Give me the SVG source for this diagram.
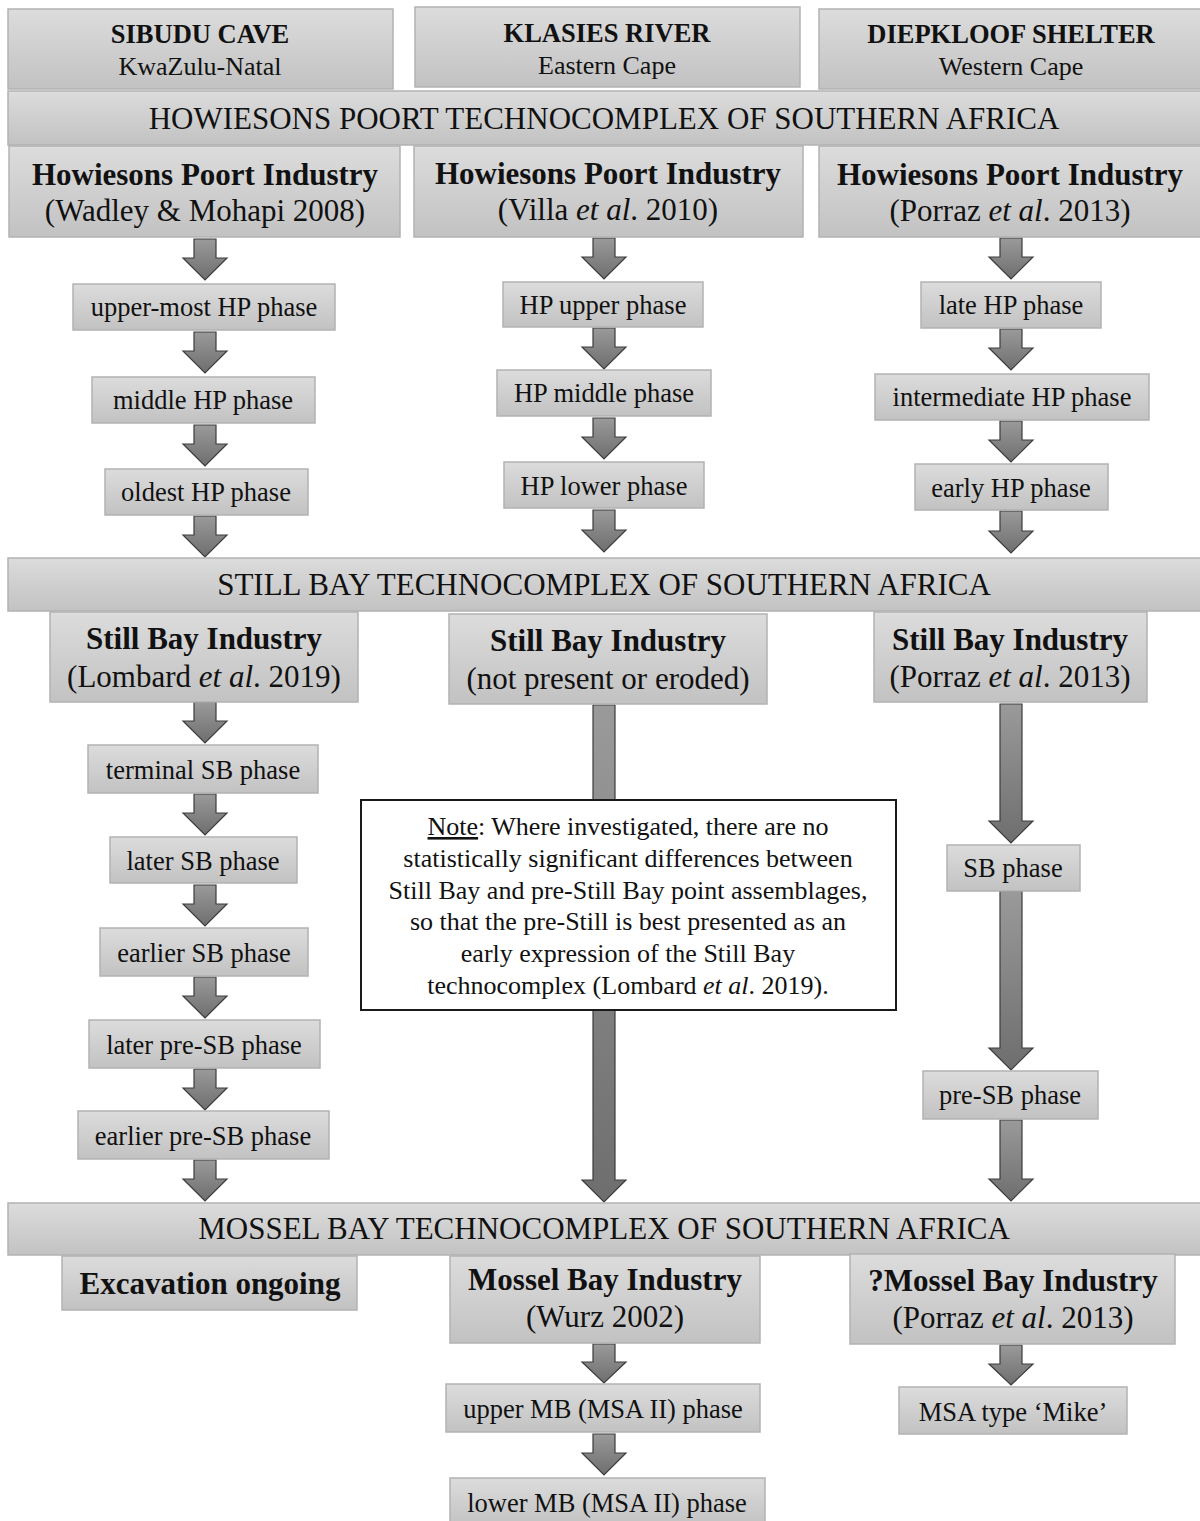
<svg xmlns="http://www.w3.org/2000/svg" width="1200" height="1521" viewBox="0 0 1200 1521">
<defs>
<linearGradient id="gBox" x1="0" y1="0" x2="0" y2="1">
<stop offset="0" stop-color="#dcdcdc"/>
<stop offset="1" stop-color="#c2c2c2"/>
</linearGradient>
<linearGradient id="gArrow" x1="0" y1="0" x2="0" y2="1">
<stop offset="0" stop-color="#9a9a9a"/>
<stop offset="1" stop-color="#6e6e6e"/>
</linearGradient>
<style>
.box{fill:url(#gBox);stroke:#b2b2b2;stroke-width:1.5}
.note{fill:#ffffff;stroke:#1a1a1a;stroke-width:2}
.arr{fill:url(#gArrow);stroke:#3c3c3c;stroke-width:1.2;stroke-linejoin:miter}
text{font-family:"Liberation Serif","Times New Roman",serif;fill:#111;text-anchor:middle}
.site{font-size:26.5px;font-weight:bold}
.reg{font-size:26px}
.band{font-size:31px}
.ind{font-size:31px;font-weight:bold}
.ref{font-size:31px}
.ph{font-size:26.5px}
.nt{font-size:26px}
</style>
</defs>

<g id="connectors">
<path class="arr" d="M194 239H216V258H227L205 280L183 258H194Z"/>
<path class="arr" d="M194 332H216V351H227L205 373L183 351H194Z"/>
<path class="arr" d="M194 425H216V444H227L205 466L183 444H194Z"/>
<path class="arr" d="M194 516H216V535H227L205 557L183 535H194Z"/>
<path class="arr" d="M593 238H615V257H626L604 279L582 257H593Z"/>
<path class="arr" d="M593 328H615V347H626L604 369L582 347H593Z"/>
<path class="arr" d="M593 418H615V437H626L604 459L582 437H593Z"/>
<path class="arr" d="M593 510H615V530H626L604 552L582 530H593Z"/>
<path class="arr" d="M1000 238H1022V257H1033L1011 279L989 257H1000Z"/>
<path class="arr" d="M1000 329H1022V348H1033L1011 370L989 348H1000Z"/>
<path class="arr" d="M1000 421H1022V440H1033L1011 462L989 440H1000Z"/>
<path class="arr" d="M1000 511H1022V531H1033L1011 553L989 531H1000Z"/>
<path class="arr" d="M194 702H216V721H227L205 743L183 721H194Z"/>
<path class="arr" d="M194 794H216V813H227L205 835L183 813H194Z"/>
<path class="arr" d="M194 885H216V904H227L205 926L183 904H194Z"/>
<path class="arr" d="M194 977H216V996H227L205 1018L183 996H194Z"/>
<path class="arr" d="M194 1069H216V1088H227L205 1110L183 1088H194Z"/>
<path class="arr" d="M194 1160H216V1179H227L205 1201L183 1179H194Z"/>
<path class="arr" d="M593 705H615V1180H626L604 1202L582 1180H593Z"/>
<path class="arr" d="M1000 704H1022V821H1033L1011 843L989 821H1000Z"/>
<path class="arr" d="M1000 891H1022V1048H1033L1011 1070L989 1048H1000Z"/>
<path class="arr" d="M1000 1120H1022V1179H1033L1011 1201L989 1179H1000Z"/>
<path class="arr" d="M593 1344H615V1362H626L604 1383L582 1362H593Z"/>
<path class="arr" d="M593 1434H615V1453H626L604 1475L582 1453H593Z"/>
<path class="arr" d="M1000 1345H1022V1364H1033L1011 1385L989 1364H1000Z"/>
</g>

<g id="site-sibudu"><rect class="box" x="8" y="9" width="385" height="80"/><text class="site" x="200" y="43">SIBUDU CAVE</text><text class="reg" x="200" y="75">KwaZulu-Natal</text></g>
<g id="site-klasies"><rect class="box" x="415" y="7" width="385" height="80"/><text class="site" x="607" y="42">KLASIES RIVER</text><text class="reg" x="607" y="74">Eastern Cape</text></g>
<g id="site-diepkloof"><rect class="box" x="819" y="9" width="382" height="80"/><text class="site" x="1011" y="43">DIEPKLOOF SHELTER</text><text class="reg" x="1011" y="75">Western Cape</text></g>

<g id="band-hp"><rect class="box" x="8" y="91" width="1193" height="54"/><text class="band" x="604" y="129">HOWIESONS POORT TECHNOCOMPLEX OF SOUTHERN AFRICA</text></g>

<g id="hp-ind-1"><rect class="box" x="9" y="146" width="391" height="91"/><text class="ind" x="205" y="185">Howiesons Poort Industry</text><text class="ref" x="205" y="221">(Wadley &amp; Mohapi 2008)</text></g>
<g id="hp-ind-2"><rect class="box" x="414" y="146" width="389" height="91"/><text class="ind" x="608" y="184">Howiesons Poort Industry</text><text class="ref" x="608" y="220">(Villa <tspan font-style="italic">et al</tspan>. 2010)</text></g>
<g id="hp-ind-3"><rect class="box" x="819" y="146" width="382" height="91"/><text class="ind" x="1010" y="185">Howiesons Poort Industry</text><text class="ref" x="1010" y="221">(Porraz <tspan font-style="italic">et al</tspan>. 2013)</text></g>

<g id="hp1-upper"><rect class="box" x="73" y="284" width="262" height="46"/><text class="ph" x="204" y="316">upper-most HP phase</text></g>
<g id="hp1-middle"><rect class="box" x="92" y="377" width="223" height="46"/><text class="ph" x="203" y="409">middle HP phase</text></g>
<g id="hp1-oldest"><rect class="box" x="105" y="469" width="203" height="46"/><text class="ph" x="206" y="501">oldest HP phase</text></g>

<g id="hp2-upper"><rect class="box" x="503" y="282" width="200" height="45"/><text class="ph" x="603" y="314">HP upper phase</text></g>
<g id="hp2-middle"><rect class="box" x="497" y="370" width="214" height="46"/><text class="ph" x="604" y="402">HP middle phase</text></g>
<g id="hp2-lower"><rect class="box" x="504" y="462" width="200" height="46"/><text class="ph" x="604" y="495">HP lower phase</text></g>

<g id="hp3-late"><rect class="box" x="921" y="282" width="180" height="46"/><text class="ph" x="1011" y="314">late HP phase</text></g>
<g id="hp3-intermediate"><rect class="box" x="875" y="374" width="274" height="46"/><text class="ph" x="1012" y="406">intermediate HP phase</text></g>
<g id="hp3-early"><rect class="box" x="915" y="464" width="193" height="46"/><text class="ph" x="1011" y="497">early HP phase</text></g>

<g id="band-sb"><rect class="box" x="8" y="558" width="1193" height="53"/><text class="band" x="604" y="595">STILL BAY TECHNOCOMPLEX OF SOUTHERN AFRICA</text></g>

<g id="sb-ind-1"><rect class="box" x="50" y="612" width="308" height="90"/><text class="ind" x="204" y="649">Still Bay Industry</text><text class="ref" x="204" y="687">(Lombard <tspan font-style="italic">et al</tspan>. 2019)</text></g>
<g id="sb-ind-2"><rect class="box" x="449" y="614" width="318" height="90"/><text class="ind" x="608" y="651">Still Bay Industry</text><text class="ref" x="608" y="689">(not present or eroded)</text></g>
<g id="sb-ind-3"><rect class="box" x="874" y="612" width="273" height="90"/><text class="ind" x="1010" y="650">Still Bay Industry</text><text class="ref" x="1010" y="687">(Porraz <tspan font-style="italic">et al</tspan>. 2013)</text></g>

<g id="sb1-terminal"><rect class="box" x="88" y="745" width="230" height="48"/><text class="ph" x="203" y="779">terminal SB phase</text></g>
<g id="sb1-later"><rect class="box" x="110" y="837" width="187" height="46"/><text class="ph" x="203" y="870">later SB phase</text></g>
<g id="sb1-earlier"><rect class="box" x="100" y="928" width="208" height="48"/><text class="ph" x="204" y="962">earlier SB phase</text></g>
<g id="sb1-later-pre"><rect class="box" x="89" y="1020" width="231" height="48"/><text class="ph" x="204" y="1054">later pre-SB phase</text></g>
<g id="sb1-earlier-pre"><rect class="box" x="78" y="1111" width="251" height="48"/><text class="ph" x="203" y="1145">earlier pre-SB phase</text></g>

<g id="note"><rect class="note" x="361" y="800" width="535" height="210"/>
<text class="nt" x="628" y="835"><tspan text-decoration="underline">Note</tspan>: Where investigated, there are no</text>
<text class="nt" x="628" y="867">statistically significant differences between</text>
<text class="nt" x="628" y="899">Still Bay and pre-Still Bay point assemblages,</text>
<text class="nt" x="628" y="930">so that the pre-Still is best presented as an</text>
<text class="nt" x="628" y="962">early expression of the Still Bay</text>
<text class="nt" x="628" y="994">technocomplex (Lombard <tspan font-style="italic">et al</tspan>. 2019).</text>
</g>

<g id="sb3-sb"><rect class="box" x="947" y="845" width="133" height="46"/><text class="ph" x="1013" y="877">SB phase</text></g>
<g id="sb3-pre"><rect class="box" x="923" y="1071" width="175" height="48"/><text class="ph" x="1010" y="1104">pre-SB phase</text></g>

<g id="band-mb"><rect class="box" x="8" y="1203" width="1193" height="52"/><text class="band" x="604" y="1239">MOSSEL BAY TECHNOCOMPLEX OF SOUTHERN AFRICA</text></g>

<g id="mb-excavation"><rect class="box" x="62" y="1256" width="295" height="54"/><text class="ind" x="210" y="1294">Excavation ongoing</text></g>
<g id="mb-ind-2"><rect class="box" x="450" y="1256" width="310" height="87"/><text class="ind" x="605" y="1290">Mossel Bay Industry</text><text class="ref" x="605" y="1327">(Wurz 2002)</text></g>
<g id="mb-ind-3"><rect class="box" x="850" y="1254" width="325" height="90"/><text class="ind" x="1013" y="1291">?Mossel Bay Industry</text><text class="ref" x="1013" y="1328">(Porraz <tspan font-style="italic">et al</tspan>. 2013)</text></g>

<g id="mb2-upper"><rect class="box" x="446" y="1384" width="314" height="48"/><text class="ph" x="603" y="1418">upper MB (MSA II) phase</text></g>
<g id="mb2-lower"><rect class="box" x="450" y="1478" width="315" height="48"/><text class="ph" x="607" y="1512">lower MB (MSA II) phase</text></g>
<g id="mb3-mike"><rect class="box" x="899" y="1387" width="228" height="47"/><text class="ph" x="1013" y="1421">MSA type ‘Mike’</text></g>
</svg>
